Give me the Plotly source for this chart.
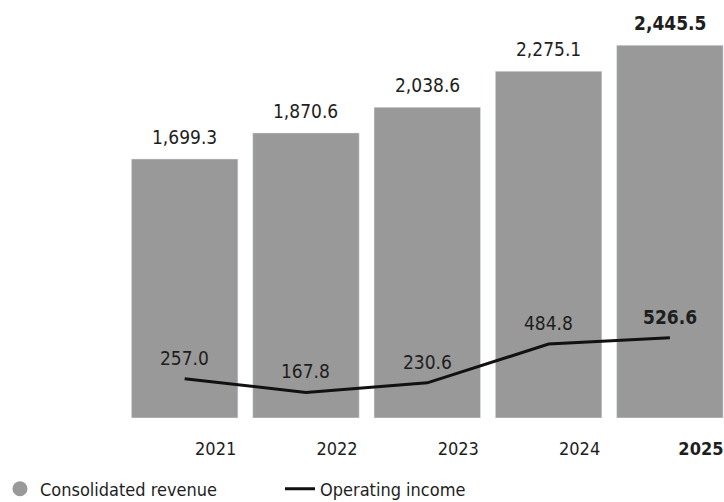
import plotly.graph_objects as go

years = ["2021", "2022", "2023", "2024", "2025"]
revenue = [1699.3, 1870.6, 2038.6, 2275.1, 2445.5]
operating_income = [257.0, 167.8, 230.6, 484.8, 526.6]
revenue_labels = ["1,699.3", "1,870.6", "2,038.6", "2,275.1", "<b>2,445.5</b>"]
income_labels = ["257.0", "167.8", "230.6", "484.8", "<b>526.6</b>"]
year_labels = ["2021", "2022", "2023", "2024", "<b>2025</b>"]

FONT = "DejaVu Sans Condensed, DejaVu Sans"
TXT = "#1e1e1e"
GRAY = "#999999"


def f(size):
    return dict(family=FONT, size=size, color=TXT)


fig = go.Figure()
fig.add_trace(go.Bar(x=years, y=revenue, marker_color=GRAY, showlegend=False,
                     hoverinfo="skip"))
fig.add_trace(go.Scatter(x=years, y=operating_income, mode="lines",
                         line=dict(color="#111111", width=3), showlegend=False,
                         hoverinfo="skip"))
# legend entries
fig.add_trace(go.Scatter(x=[None], y=[None], mode="markers", name="Consolidated revenue",
                         marker=dict(symbol="circle", size=15, color=GRAY)))
fig.add_trace(go.Scatter(x=[None], y=[None], mode="lines", name="Operating income",
                         line=dict(color="#111111", width=3)))

for i, (v, lab) in enumerate(zip(revenue, revenue_labels)):
    fig.add_annotation(x=i, y=v, xref="x", yref="y", text=lab, showarrow=False,
                       yanchor="middle", yshift=22, font=f(19))
for i, (v, lab) in enumerate(zip(operating_income, income_labels)):
    fig.add_annotation(x=i, y=v, xref="x", yref="y", text=lab, showarrow=False,
                       yanchor="middle", yshift=21, font=f(19))

fig.update_layout(
    width=724, height=502,
    margin=dict(l=124, r=0, t=6, b=84, autoexpand=False),
    paper_bgcolor="white", plot_bgcolor="white",
    bargap=0.122,
    font=f(18),
    xaxis=dict(type="category", range=[-0.5, 4.446], showgrid=False, zeroline=False,
               showline=False, ticks="", tickmode="array", tickvals=years,
               ticktext=year_labels, ticklabelshift=31, ticklabelstandoff=18,
               tickfont=f(18), fixedrange=True),
    yaxis=dict(range=[0, 2703], visible=False, fixedrange=True),
    legend=dict(orientation="h", xref="paper", yref="paper", x=-0.2067, y=-0.1725,
                xanchor="left", yanchor="middle", font=f(18),
                entrywidth=235, entrywidthmode="pixels", bgcolor="rgba(0,0,0,0)"),
)

fig.write_html("out.html")
